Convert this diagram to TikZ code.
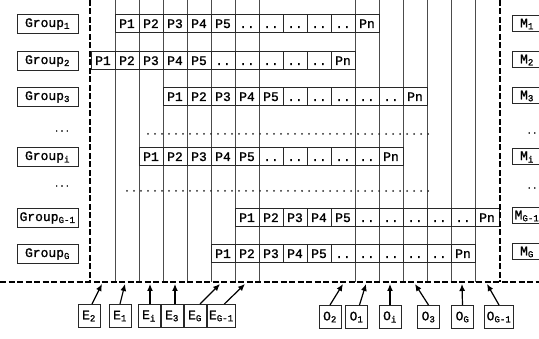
\documentclass[tikz,border=0pt]{standalone}
\usepackage{fontspec}
\setmonofont{Liberation Mono}[FakeBold=1.2]
\usetikzlibrary{arrows.meta,positioning}
\definecolor{inkgray}{RGB}{40,40,40}
\tikzset{
  pcell/.style={draw=inkgray,line width=1pt,minimum width=24pt,minimum height=18pt,inner sep=0pt,text height=9pt,text depth=1pt},
  grpbox/.style={draw=inkgray,line width=1pt,minimum width=61pt,minimum height=19pt,inner sep=0pt},
  mbox/.style={draw=inkgray,line width=1pt,minimum width=30pt,minimum height=16pt,inner sep=0pt},
  evbox/.style={draw=inkgray,line width=1pt,minimum width=22pt,minimum height=23pt,inner sep=2pt},
  timeline/.style={black!70,line width=.8pt},
  bigdash/.style={line width=2.2pt,dash pattern=on 6pt off 2.5pt},
  dotrow/.style={inkgray,line width=2pt,line cap=round,dash pattern=on 0pt off 7pt},
  feed/.style={-{Latex[length=7pt,width=6pt]},line width=1.2pt},
}
\newcommand{\sbs}[1]{\textsubscript{#1}}
% one group: P1..P5, five gaps, Pn
\newcommand{\grouprow}[3]{%
  \foreach \k in {1,...,5}
    \node[pcell] (#1p\k) at ({#2+24*\k-12},#3) {P\k};
  \foreach \k in {6,...,10}
    \node[pcell] (#1p\k) at ({#2+24*\k-12},#3) {..};
  \node[pcell] (#1pn) at ({#2+24*11-12},#3) {Pn};
}

\begin{document}
\begin{tikzpicture}[x=1pt,y=-1pt,font=\ttfamily\fontsize{13}{13}\selectfont]
  \useasboundingbox (0,0) rectangle (539,339);
  \clip (0,0) rectangle (539,339);

  % time lines
  \foreach \xx in {115,139,...,259}
    \draw[timeline] (\xx,0) -- (\xx,282);
  \foreach \xx in {355,379,...,475}
    \draw[timeline] (\xx,0) -- (\xx,282);

  % groups
  \grouprow{ra}{115}{24}
  \grouprow{rb}{91}{61}
  \grouprow{rc}{163}{97}
  \grouprow{ri}{139}{157}
  \grouprow{rgm}{235}{218}
  \grouprow{rg}{211}{254}
  \draw[dotrow] (148,134) -- (434,134);
  \draw[dotrow] (127,191) -- (434,191);

  \node[grpbox] (grpa) at (47.5,24) {Group\sbs{1}};
  \node[grpbox] (grpb) at (47.5,61) {Group\sbs{2}};
  \node[grpbox] (grpc) at (47.5,97) {Group\sbs{3}};
  \node[font=\ttfamily\fontsize{9}{9}\selectfont] (ldotsa) at (62,131) {...};
  \node[grpbox] (grpi) at (47.5,157) {Group\sbs{i}};
  \node[font=\ttfamily\fontsize{9}{9}\selectfont] (ldotsb) at (62,186) {...};
  \node[grpbox] (grpgm) at (47.5,218) {Group\sbs{G-1}};
  \node[grpbox] (grpg) at (47.5,254) {Group\sbs{G}};

  \node[mbox] (ma) at (527,24) {M\sbs{1}};
  \node[mbox] (mb) at (527,60) {M\sbs{2}};
  \node[mbox] (mc) at (527,96) {M\sbs{3}};
  \node[font=\ttfamily\fontsize{9}{9}\selectfont] (rdotsa) at (532,133) {..};
  \node[mbox] (mi) at (527,157) {M\sbs{i}};
  \node[font=\ttfamily\fontsize{9}{9}\selectfont] (rdotsb) at (532,188) {..};
  \node[mbox] (mgm) at (527,216) {M\sbs{G-1}};
  \node[mbox] (mg) at (527,252) {M\sbs{G}};

  % boundaries
  \draw[bigdash] (90,0) -- (90,282);
  \draw[bigdash] (500,0) -- (500,282);
  \draw[bigdash] (0,282) -- (539,282);

  % start events
  \node[evbox] (ea) at (89,316) {E\sbs{2}};
  \node[evbox] (eb) at (120,316) {E\sbs{1}};
  \node[evbox] (ec) at (149,316) {E\sbs{i}};
  \node[evbox,right=0pt of ec] (ed) {E\sbs{3}};
  \node[evbox,right=0pt of ed] (ee) {E\sbs{G}};
  \node[evbox,right=0pt of ee] (ef) {E\sbs{G-1}};
  \coordinate (tea) at (102,284);
  \coordinate (teb) at (125,284);
  \coordinate (tec) at (150,284);
  \coordinate (ted) at (175,284);
  \coordinate (tee) at (220,284);
  \coordinate (tef) at (245,284);
  \draw[feed] ([xshift=3pt]ea.north) -- (tea);
  \draw[feed] (eb.north) -- (teb);
  \draw[feed] ([xshift=1pt]ec.north) -- (tec);
  \draw[feed] ([xshift=3pt]ed.north) -- (ted);
  \draw[feed] ([xshift=5pt]ee.north) -- (tee);
  \draw[feed] ([xshift=3pt]ef.north) -- (tef);

  % end events
  \node[evbox] (oa) at (330,317) {O\sbs{2}};
  \node[evbox] (ob) at (356.5,317) {O\sbs{1}};
  \node[evbox] (oc) at (390,317) {O\sbs{i}};
  \node[evbox] (od) at (428.5,317) {O\sbs{3}};
  \node[evbox] (oe) at (462.5,317) {O\sbs{G}};
  \node[evbox] (of) at (499,317) {O\sbs{G-1}};
  \coordinate (toa) at (343,284);
  \coordinate (tob) at (366,284);
  \coordinate (toc) at (390,284);
  \coordinate (tod) at (415,284);
  \coordinate (toe) at (462,284);
  \coordinate (tof) at (487,284);
  \draw[feed] (oa.north) -- (toa);
  \draw[feed] ([xshift=3pt]ob.north) -- (tob);
  \draw[feed] (oc.north) -- (toc);
  \draw[feed] (od.north) -- (tod);
  \draw[feed] (oe.north) -- (toe);
  \draw[feed] (of.north) -- (tof);
\end{tikzpicture}
\end{document}
